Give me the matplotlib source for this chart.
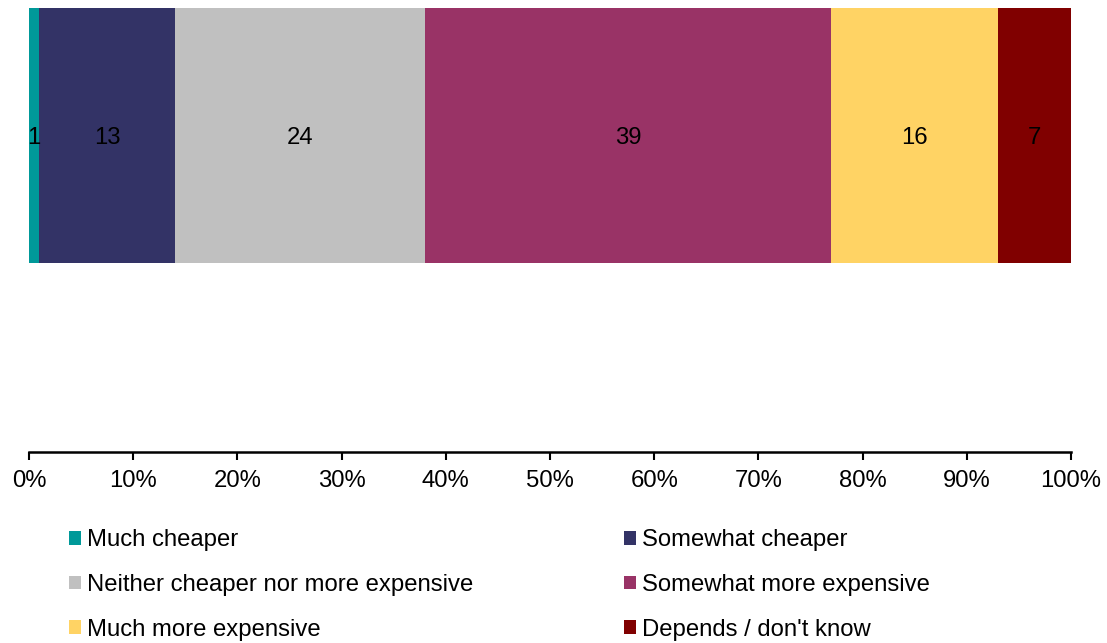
import matplotlib
matplotlib.use("Agg")
import matplotlib.pyplot as plt
from matplotlib.patches import Patch
from matplotlib.ticker import PercentFormatter

plt.rcParams['font.family'] = ['Liberation Sans', 'DejaVu Sans']

categories = ["Much cheaper", "Somewhat cheaper", "Neither cheaper nor more expensive",
              "Somewhat more expensive", "Much more expensive", "Depends / don't know"]
values = [1, 13, 24, 39, 16, 7]
colors = ["#009999", "#333366", "#C0C0C0", "#993366", "#FFD364", "#800000"]
tick_values = [0, 10, 20, 30, 40, 50, 60, 70, 80, 90, 100]

fig = plt.figure(figsize=(11.07, 6.43), dpi=100)
ax = fig.add_axes([0.0262, 0.297, 0.9413, 0.6905])

left = 0
for cat, v, c in zip(categories, values, colors):
    ax.barh(0, v, left=left, height=1.0, color=c, edgecolor='none', label=cat)
    ax.text(left + v / 2, -0.01, f"{v}", ha='center', va='center', fontsize=17.2, color='black')
    left += v

ax.set_xlim(0, 100)
ax.set_ylim(-1.241, 0.5)
ax.set_xticks(tick_values)
ax.xaxis.set_major_formatter(PercentFormatter(decimals=0))
ax.tick_params(axis='x', direction='out', length=6, width=1.5, labelsize=17.2, pad=7)
ax.set_yticks([])
for s in ['top', 'right', 'left']:
    ax.spines[s].set_visible(False)
ax.spines['bottom'].set_linewidth(1.8)

# two-column legend, filled row by row
handles = [Patch(facecolor=c, edgecolor='none') for c in colors]
order = [0, 2, 4, 1, 3, 5]
fig.legend([handles[i] for i in order], [categories[i] for i in order],
           ncol=2, loc='upper left', bbox_to_anchor=(0.0623, 0.177),
           frameon=False, fontsize=17.2, handlelength=0.5, handleheight=0.5,
           handletextpad=0.25, columnspacing=6.3, labelspacing=0.95,
           borderaxespad=0, borderpad=0)

fig.savefig("out.png", dpi=100)
